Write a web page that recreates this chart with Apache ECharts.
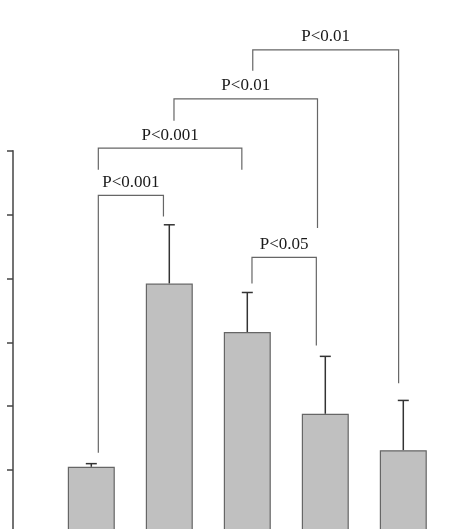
<!DOCTYPE html>
<html>
<head>
<meta charset="UTF-8">
<title>bar with significance brackets</title>
<script src="https://cdn.jsdelivr.net/npm/echarts@6/dist/echarts.min.js"></script>
<style>html,body{margin:0;padding:0;background:#fff;}</style>
</head>
<body>
<div id="main" style="width:469px;height:529px;"></div>
<script>
// group positions, bar heights and top of error bars
var groups = [1, 2, 3, 4, 5];
var means = [1.05, 3.92, 3.16, 1.88, 1.31];
var errTops = [1.10, 4.84, 3.78, 2.78, 2.09];

// significance brackets: [x left, x right, top, left leg end, right leg end]
var pLabels = ['P<0.001', 'P<0.001', 'P<0.01', 'P<0.01', 'P<0.05'];
var pBrackets = [
    [1.09, 1.925, 5.30, 1.27, 4.97],
    [1.09, 2.93, 6.04, 5.70, 5.70],
    [2.06, 3.90, 6.81, 6.47, 4.79],
    [3.07, 4.94, 7.58, 7.25, 2.36],
    [3.06, 3.885, 4.33, 3.92, 2.95]
];

var chart = echarts.init(document.getElementById('main'));

var option = {
    animation: false,
    backgroundColor: '#fff',
    grid: { left: 52.3, width: 390, top: 150.7, height: 383.2, outerBoundsMode: 'none' },
    xAxis: { type: 'value', min: 0.5, max: 5.5, show: false },
    yAxis: {
        type: 'value', min: 0, max: 6, interval: 1, offset: 39.3,
        axisLine: { show: true, lineStyle: { color: '#444', width: 1.5 } },
        axisTick: { show: true, length: 6, lineStyle: { color: '#444', width: 1.5 } },
        axisLabel: { show: false },
        splitLine: { show: false }
    },
    series: [
        {
            type: 'bar',
            barWidth: 47,
            itemStyle: { color: '#c0c0c0', borderColor: '#666', borderWidth: 1.2 },
            data: means.map(function (v, i) { return [groups[i], v]; })
        },
        {
            type: 'custom',
            data: errTops.map(function (v, i) { return [groups[i], means[i], v]; }),
            renderItem: function (params, api) {
                var base = api.coord([api.value(0), api.value(1)]);
                var top = api.coord([api.value(0), api.value(2)]);
                var st = { stroke: '#333', lineWidth: 1.5 };
                return {
                    type: 'group',
                    children: [
                        { type: 'line', shape: { x1: base[0], y1: base[1], x2: top[0], y2: top[1] }, style: st },
                        { type: 'line', shape: { x1: top[0] - 5.5, y1: top[1], x2: top[0] + 5.5, y2: top[1] }, style: st }
                    ]
                };
            }
        },
        {
            type: 'custom',
            data: pBrackets,
            renderItem: function (params, api) {
                var l = api.coord([api.value(0), api.value(2)]);
                var r = api.coord([api.value(1), api.value(2)]);
                var lb = api.coord([api.value(0), api.value(3)]);
                var rb = api.coord([api.value(1), api.value(4)]);
                return {
                    type: 'group',
                    children: [
                        {
                            type: 'polyline',
                            shape: { points: [[lb[0], lb[1]], [l[0], l[1]], [r[0], r[1]], [rb[0], rb[1]]] },
                            style: { stroke: '#666', lineWidth: 1.2, fill: null }
                        },
                        {
                            type: 'text',
                            x: (l[0] + r[0]) / 2,
                            y: l[1] - 13,
                            style: {
                                text: pLabels[params.dataIndex],
                                fill: '#1a1a1a',
                                font: '17px "Liberation Serif"',
                                textAlign: 'center',
                                textVerticalAlign: 'middle'
                            }
                        }
                    ]
                };
            }
        }
    ]
};

chart.setOption(option);
</script>
</body>
</html>
